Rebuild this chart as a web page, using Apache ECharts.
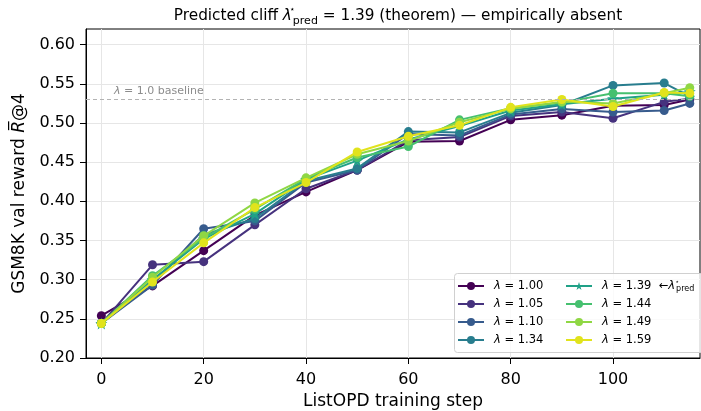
<!DOCTYPE html>
<html>
<head>
<meta charset="utf-8">
<script src="https://cdn.jsdelivr.net/npm/echarts@6/dist/echarts.min.js"></script>
<style>
  html, body { margin: 0; padding: 0; background: #fff; }
  #chart { width: 701px; height: 411px; }
</style>
</head>
<body>
<div id="chart"></div>
<script>
// ListOPD training steps at which validation reward was measured
const steps = [0, 10, 20, 30, 40, 50, 60, 70, 80, 90, 100, 110, 115];

// lambda values swept
const lambdas = ['1.00', '1.05', '1.10', '1.34', '1.39', '1.44', '1.49', '1.59'];

// GSM8K validation reward (mean R@4) per lambda
const reward_l100 = [0.254, 0.292, 0.337, 0.382, 0.412, 0.440, 0.476, 0.477, 0.504, 0.510, 0.522, 0.523, 0.530];
const reward_l105 = [0.244, 0.319, 0.323, 0.370, 0.416, 0.440, 0.478, 0.482, 0.509, 0.514, 0.506, 0.527, 0.531];
const reward_l110 = [0.244, 0.293, 0.365, 0.375, 0.424, 0.440, 0.486, 0.484, 0.511, 0.518, 0.514, 0.516, 0.525];
const reward_l134 = [0.244, 0.297, 0.357, 0.378, 0.426, 0.442, 0.489, 0.488, 0.513, 0.523, 0.548, 0.551, 0.534];
const reward_l139 = [0.244, 0.300, 0.352, 0.384, 0.428, 0.452, 0.479, 0.496, 0.516, 0.524, 0.531, 0.536, 0.540];
const reward_l144 = [0.244, 0.305, 0.353, 0.390, 0.429, 0.456, 0.470, 0.504, 0.519, 0.526, 0.538, 0.538, 0.534];
const reward_l149 = [0.244, 0.303, 0.356, 0.398, 0.430, 0.460, 0.477, 0.501, 0.518, 0.527, 0.525, 0.538, 0.545];
const reward_l159 = [0.244, 0.297, 0.347, 0.392, 0.424, 0.463, 0.483, 0.497, 0.520, 0.530, 0.521, 0.539, 0.538];

// reward of the lambda = 1.0 baseline
const baselineReward = 0.534;

// predicted cliff lambda (theorem)
const predictedLambda = '1.39';

// axis ticks
const xTicks = [0, 20, 40, 60, 80, 100];
const yTicks = [0.20, 0.25, 0.30, 0.35, 0.40, 0.45, 0.50, 0.55, 0.60];

const rewards = [reward_l100, reward_l105, reward_l110, reward_l134,
                 reward_l139, reward_l144, reward_l149, reward_l159];

const viridis = ['#440154', '#46327e', '#375b8d', '#287d8e',
                 '#20a187', '#46c06f', '#8fd744', '#e1e31c'];

const FONT = 'DejaVu Sans';
const STAR = 'path://M50,0 L61.8,35.3 L99,35.3 L69,57.3 L80.5,92.7 L50,70.8 L19.5,92.7 L31,57.3 L1,35.3 L38.2,35.3 Z';

const names = lambdas.map(l => 'λ = ' + l);

const series = lambdas.map((l, i) => {
  const s = {
    name: names[i],
    type: 'line',
    data: steps.map((x, k) => [x, rewards[i][k]]),
    symbol: l === predictedLambda ? STAR : 'circle',
    symbolSize: l === predictedLambda ? 12 : 9,
    showSymbol: true,
    lineStyle: { width: 2, color: viridis[i] },
    itemStyle: { color: viridis[i], borderWidth: 0 },
    emphasis: { disabled: true },
    animation: false,
    z: 2 + i * 0.01
  };
  if (i === 0) {
    s.markLine = {
      silent: true,
      symbol: ['none', 'none'],
      lineStyle: { type: [4, 3], color: '#b3b3b3', width: 1 },
      label: {
        show: true,
        position: 'insideStartTop',
        formatter: '{i|λ} = 1.0 baseline',
        color: '#8c8c8c',
        fontFamily: FONT,
        fontSize: 11,
        distance: [28, 3],
        rich: { i: { fontStyle: 'italic', fontFamily: FONT, fontSize: 11, color: '#8c8c8c' } }
      },
      data: [{ yAxis: baselineReward }],
      animation: false
    };
  }
  return s;
});

const LEG_FS = 11.5;
const legendRich = {
  i: { fontStyle: 'italic', fontFamily: FONT, fontSize: LEG_FS, color: '#000' },
  t: { fontFamily: FONT, fontSize: LEG_FS, color: '#000' },
  sup: { fontFamily: FONT, fontSize: 7, verticalAlign: 'top', width: 1, color: '#000' },
  sub: { fontFamily: FONT, fontSize: 8, verticalAlign: 'bottom', color: '#000' }
};

function legendLabel(name) {
  const v = name.split('=')[1].trim();
  let s = '{i|λ}{t| = ' + v + '}';
  if (v === predictedLambda) s += '{t|  ←}{i|λ}{sup|⋆}{sub|pred}';
  return s;
}

const legendBase = {
  orient: 'vertical',
  top: 274,
  itemWidth: 26,
  itemHeight: 10,
  itemGap: 4,
  selectedMode: false,
  textStyle: { fontFamily: FONT, fontSize: LEG_FS, color: '#000', lineHeight: 14, padding: [0, 0, 0, 5], rich: legendRich },
  formatter: legendLabel,
  z: 5
};

const chart = echarts.init(document.getElementById('chart'), null, { renderer: 'canvas' });

const TITLE_FS = 15.3;

chart.setOption({
  backgroundColor: '#fff',
  animation: false,
  title: {
    text: 'Predicted cliff {i|λ}{sup|⋆}{sub|pred}{t| = 1.39 (theorem) — empirically absent}',
    left: 393,
    textAlign: 'center',
    top: 0,
    textStyle: {
      fontFamily: FONT, fontSize: TITLE_FS, fontWeight: 'normal', color: '#000', lineHeight: 22,
      rich: {
        i: { fontStyle: 'italic', fontFamily: FONT, fontSize: TITLE_FS, color: '#000' },
        t: { fontFamily: FONT, fontSize: TITLE_FS, color: '#000' },
        sup: { fontFamily: FONT, fontSize: 9, verticalAlign: 'top', width: 1, color: '#000' },
        sub: { fontFamily: FONT, fontSize: 11, verticalAlign: 'bottom', color: '#000' }
      }
    }
  },
  grid: {
    left: 86, right: 1, top: 29, bottom: 53,
    outerBoundsMode: 'none',
    show: true, borderColor: '#000', borderWidth: 1, backgroundColor: 'transparent'
  },
  legend: [
    Object.assign({}, legendBase, { left: 452, data: names.slice(0, 4) }),
    Object.assign({}, legendBase, { left: 560, data: names.slice(4) })
  ],
  graphic: [{
    type: 'rect',
    shape: { x: 454.5, y: 273.5, width: 260, height: 79, r: 3 },
    style: { fill: 'rgba(255,255,255,0.8)', stroke: '#d0d0d0', lineWidth: 1 },
    z: 4,
    silent: true
  }],
  xAxis: {
    type: 'value',
    min: -3,
    max: 117,
    name: 'ListOPD training step',
    nameLocation: 'middle',
    nameGap: 33,
    nameTextStyle: { fontFamily: FONT, fontSize: 17, color: '#000' },
    axisLine: { show: true, onZero: false, lineStyle: { color: '#000', width: 1 } },
    axisTick: { show: true, length: 6, lineStyle: { color: '#000' }, customValues: xTicks },
    axisLabel: { fontFamily: FONT, fontSize: 16, color: '#000', margin: 14, customValues: xTicks },
    splitLine: { show: true, lineStyle: { color: '#e6e6e6', width: 1 } }
  },
  yAxis: {
    type: 'value',
    min: 0.2,
    max: 0.62,
    interval: 0.05,
    name: 'GSM8K val reward {r|R\u0305}@4',
    nameLocation: 'middle',
    nameGap: 57,
    nameTextStyle: {
      fontFamily: FONT, fontSize: 17, color: '#000',
      rich: { r: { fontStyle: 'italic', fontFamily: FONT, fontSize: 17, color: '#000' } }
    },
    axisLine: { show: true, onZero: false, lineStyle: { color: '#000', width: 1 } },
    axisTick: { show: true, length: 6, lineStyle: { color: '#000' }, customValues: yTicks },
    axisLabel: {
      fontFamily: FONT, fontSize: 16, color: '#000', margin: 11, customValues: yTicks,
      formatter: v => v.toFixed(2)
    },
    splitLine: { show: true, lineStyle: { color: '#e6e6e6', width: 1 } }
  },
  series: series
});
</script>
</body>
</html>
